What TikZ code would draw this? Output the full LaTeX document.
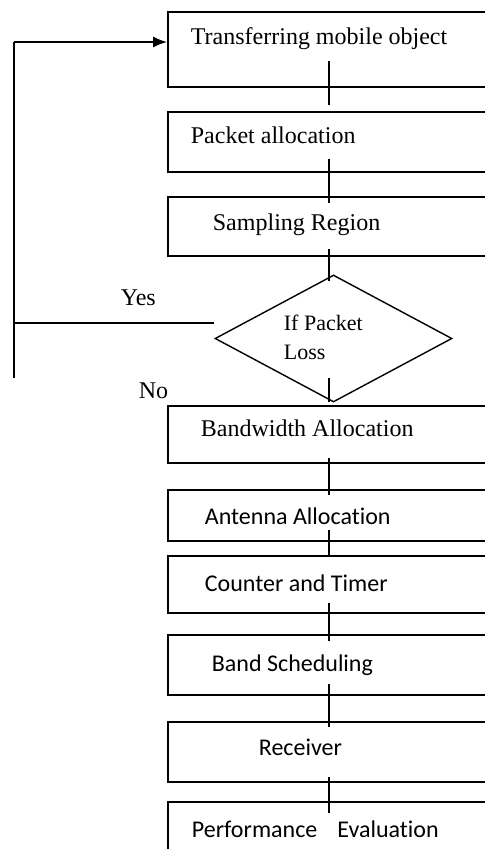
\documentclass[tikz,border=0pt]{standalone}
\usepackage{fontspec}
\setmainfont{Liberation Serif}
\newfontfamily\calibri[Ligatures=NoCommon]{Carlito}
\usetikzlibrary{shapes.geometric,arrows.meta}

\begin{document}
\begin{tikzpicture}[x=0.5pt,y=-0.5pt,line width=0.9pt,
  box/.style={draw,rectangle,minimum width=161pt,inner sep=0pt},
  txt/.style={anchor=base west,inner sep=0pt,font=\fontsize{12}{14}\selectfont},
  ctxt/.style={txt,font=\fontsize{12}{14}\calibri}]
\useasboundingbox (0,0) rectangle (485,849);
\node[box,minimum height=37.5pt] (b1) at (329,49.5) {};
\node[box,minimum height=30pt] (b2) at (329,142) {};
\node[box,minimum height=29.5pt] (b3) at (329,226.5) {};
\node[draw,diamond,minimum width=118.5pt,minimum height=63.5pt,inner sep=0pt,line width=0.7pt] (d) at (333.5,338.5) {};
\node[box,minimum height=28.5pt] (b4) at (329,434.5) {};
\node[box,minimum height=25.5pt] (b5) at (329,515.5) {};
\node[box,minimum height=28.5pt] (b6) at (329,584.5) {};
\node[box,minimum height=30pt] (b7) at (329,665) {};
\node[box,minimum height=30pt] (b8) at (329,752) {};
\node[box,minimum height=29pt] (b9) at (329,831) {};
\node[txt] (t1) at (190,45) {Transferring mobile object};
\node[txt] (t2) at (190,144) {Packet allocation};
\node[txt] (t3) at (212,231) {Sampling Region};
\node[txt] (yes) at (120,306) {Yes};
\node[txt,font=\fontsize{11}{13}\selectfont] (q1) at (283,331) {If Packet};
\node[txt,font=\fontsize{11}{13}\selectfont] (q2) at (283,359) {Loss};
\node[txt] (no) at (138,398) {No};
\node[txt] (t4) at (200,436) {Bandwidth Allocation};
\node[ctxt] (t5) at (204,524) {Antenna Allocation};
\node[ctxt] (t6) at (204,591) {Counter and Timer};
\node[ctxt] (t7) at (211,671) {Band Scheduling};
\node[ctxt] (t8) at (258,755) {Receiver};
\node[ctxt] (t9) at (191,837) {Performance\hspace{10pt}Evaluation};
\draw ([yshift=13.5pt]b1.south) -- ([yshift=3pt]b2.north);
\draw ([yshift=7pt]b2.south) -- ([yshift=-3.5pt]b3.north);
\draw ([yshift=4pt]b3.south) -- ([xshift=-2.25pt,yshift=-3.5pt]d.north);
\draw ([xshift=-2.25pt,yshift=12.5pt]d.south) -- ([yshift=1.5pt]b4.north);
\draw ([yshift=3pt]b4.south) -- ([yshift=-3pt]b5.north);
\draw ([yshift=6pt]b5.south) -- (b6.north);
\draw ([yshift=5.5pt]b6.south) -- ([yshift=-3.5pt]b7.north);
\draw ([yshift=6pt]b7.south) -- ([yshift=-3pt]b8.north);
\draw ([yshift=3pt]b8.south) -- ([yshift=-6pt]b9.north);
\coordinate (lt) at (14,42);
\coordinate (yj) at (14,323);
\coordinate (lb) at (14,378);
\draw (lb) -- (lt);
\draw[-{Latex[length=7pt,width=5.5pt]}] (lt) -- (lt -| b1.west);
\draw (yj) -- ([yshift=7.75pt]d.west);
\end{tikzpicture}
\end{document}
